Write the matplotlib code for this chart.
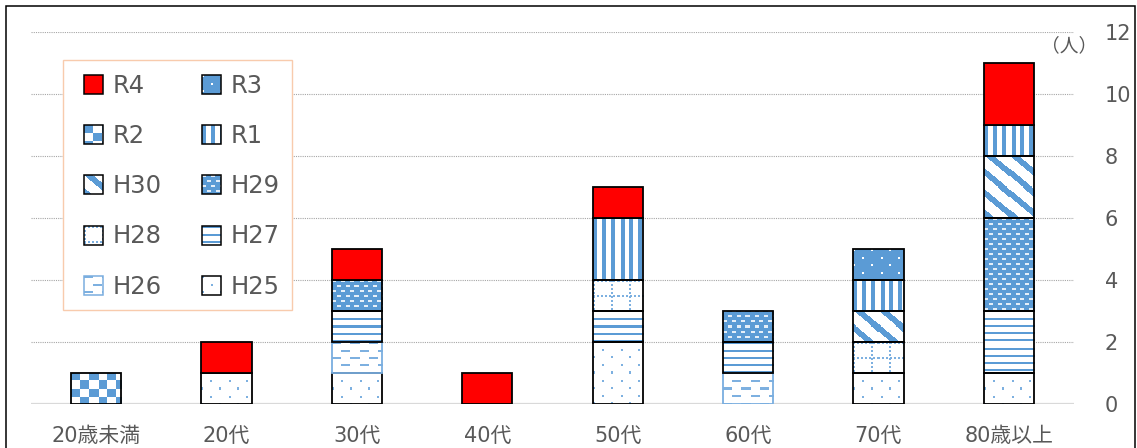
import numpy as np
import matplotlib
matplotlib.use("Agg")
import matplotlib.pyplot as plt
from matplotlib.patches import Rectangle
from matplotlib.legend_handler import HandlerBase
from matplotlib.image import BboxImage
from matplotlib.transforms import Bbox, TransformedBbox

plt.rcParams["font.family"] = ["DejaVu Sans", "Noto Sans CJK JP"]

# ---- data -------------------------------------------------------------
categories = ["20歳未満", "20代", "30代", "40代", "50代", "60代", "70代", "80歳以上"]
h25 = [0, 1, 1, 0, 2, 0, 1, 1]
h26 = [0, 0, 1, 0, 0, 1, 0, 0]
h27 = [0, 0, 1, 0, 1, 1, 0, 2]
h28 = [0, 0, 0, 0, 1, 0, 1, 0]
h29 = [0, 0, 1, 0, 0, 1, 0, 3]
h30 = [0, 0, 0, 0, 0, 0, 1, 2]
r1 = [0, 0, 0, 0, 2, 0, 1, 1]
r2 = [1, 0, 0, 0, 0, 0, 0, 0]
r3 = [0, 0, 0, 0, 0, 0, 1, 0]
r4 = [0, 1, 1, 1, 1, 0, 0, 2]
series_names = ["H25", "H26", "H27", "H28", "H29", "H30", "R1", "R2", "R3", "R4"]
series_values = [h25, h26, h27, h28, h29, h30, r1, r2, r3, r4]
y_ticks = [0, 2, 4, 6, 8, 10, 12]
unit_label = "（人）"

# ---- styling ----------------------------------------------------------
BLUE = np.array([91, 155, 213])
LIGHT = np.array([125, 176, 224])
WHITE = np.array([255, 255, 255])
PALE = np.array([228, 238, 248])
TEXT = "#595959"

edge_colors = {name: "black" for name in series_names}
edge_colors["H26"] = "#7AAEDF"


def texture(name, w, h):
    """Pixel pattern fill for one series, w x h pixels."""
    w, h = max(int(w), 1), max(int(h), 1)
    yy, xx = np.mgrid[0:h, 0:w].astype(float)

    def stagger(px, py, dw, dh):
        row = np.floor(yy / py)
        sx = (xx - (row % 2) * px / 2.0) % px
        return (sx < dw) & ((yy % py) < dh)

    bg, fg = WHITE, BLUE
    if name == "H25":
        mask, fg = stagger(17.5, 7.5, 2, 2), LIGHT
    elif name == "H26":
        mask, fg = stagger(18.0, 7.3, 9, 2), LIGHT
    elif name == "H27":
        mask = (yy % 7.2) < 2
    elif name == "H28":
        mask = (((xx % 17.5) < 2) & ((yy % 4) < 2)) | (((yy % 15) < 2) & ((xx % 4) < 2))
        fg = LIGHT
    elif name == "H29":
        mask, bg, fg = stagger(8.75, 5.0, 4, 1.5), BLUE, PALE
    elif name == "H30":
        mask = ((xx - 1.2 * yy) % 24.0) < 9
    elif name == "R1":
        mask = (xx % 8.7) < 4
    elif name == "R2":
        mask = ((np.floor(xx / 8.7) + np.floor(yy / 7.7)) % 2) == 0
    elif name == "R3":
        mask, bg, fg = stagger(17.5, 7.5, 2, 2), BLUE, WHITE
    else:
        mask = np.zeros((h, w), bool)
    img = np.empty((h, w, 3), dtype=np.uint8)
    img[:] = bg
    img[mask] = fg
    return img


SOLID = {"R4": "#FF0000"}

# ---- figure -----------------------------------------------------------
W, H, DPI = 1137, 448, 100
fig = plt.figure(figsize=(W / DPI, H / DPI), dpi=DPI)
ax = fig.add_axes([31 / W, 44 / H, 1043 / W, 372 / H])

x = np.arange(len(categories))
ax.set_xlim(-0.5, len(categories) - 0.5)
ax.set_ylim(0, 12)

bar_width = 0.385
bottom = np.zeros(len(categories))
for name, vals in zip(series_names, series_values):
    vals = np.asarray(vals, float)
    idx = np.nonzero(vals > 0)[0]
    if len(idx):
        bars = ax.bar(x[idx], vals[idx], width=bar_width, bottom=bottom[idx],
                      facecolor=SOLID.get(name, "white"),
                      edgecolor=edge_colors[name], linewidth=1.3, zorder=3)
        if name not in SOLID:
            for rect in bars:
                x0, y0 = rect.get_x(), rect.get_y()
                x1, y1 = x0 + rect.get_width(), y0 + rect.get_height()
                (p0x, p0y), (p1x, p1y) = ax.transData.transform([(x0, y0), (x1, y1)])
                tex = texture(name, round(p1x - p0x), round(p1y - p0y))
                im = ax.imshow(tex, extent=(x0, x1, y0, y1), origin="upper",
                               interpolation="nearest", aspect="auto", zorder=2.5)
                im.set_clip_path(rect)
                rect.set_facecolor("none")
    bottom += vals

ax.set_xlim(-0.5, len(categories) - 0.5)
ax.set_ylim(0, 12)

# grid and baseline
ax.set_yticks(y_ticks)
ax.grid(axis="y", color="#A6A6A6", linestyle=(0, (1, 1)), linewidth=0.8, zorder=0)
ax.set_axisbelow(True)
ax.axhline(0, color="#D9D9D9", linewidth=1.6, zorder=1)

for s in ax.spines.values():
    s.set_visible(False)
ax.yaxis.tick_right()
ax.tick_params(axis="y", length=0, pad=22, labelsize=15, labelcolor=TEXT)
ax.set_xticks(x)
ax.set_xticklabels(categories)
ax.tick_params(axis="x", length=0, pad=15.5, labelsize=15, labelcolor=TEXT)

ax.text(0.995, 0.962, unit_label, transform=ax.transAxes, ha="center", va="center",
        fontsize=13.5, color=TEXT, family=["Noto Sans CJK JP", "DejaVu Sans"])


# ---- legend -----------------------------------------------------------
class SwatchHandler(HandlerBase):
    size_px = 19

    def create_artists(self, legend, orig_handle, xdescent, ydescent,
                       width, height, fontsize, trans):
        name = orig_handle.get_gid()
        s = self.size_px * 72.0 / DPI
        sx = width - s - xdescent
        sy = (height - s) / 2.0 - ydescent
        artists = []
        if name not in SOLID:
            bb = TransformedBbox(Bbox.from_bounds(sx, sy, s, s), trans)
            img = BboxImage(bb, interpolation="nearest")
            img.set_data(texture(name, self.size_px, self.size_px))
            artists.append(img)
        rect = Rectangle((sx, sy), s, s, transform=trans,
                         facecolor=SOLID.get(name, "none"),
                         edgecolor=edge_colors[name], linewidth=1.1)
        artists.append(rect)
        return artists


legend_order = ["R4", "R2", "H30", "H28", "H26", "R3", "R1", "H29", "H27", "H25"]
proxies = [Rectangle((0, 0), 1, 1, label=n, gid=n) for n in legend_order]
leg = ax.legend(handles=proxies, handler_map={Rectangle: SwatchHandler()},
                ncol=2, loc="upper left", bbox_to_anchor=(0.0307, 0.9247),
                borderaxespad=0, fontsize=17.5, labelcolor=TEXT,
                handlelength=1.15, handleheight=1.23, handletextpad=0.41,
                borderpad=0.49, labelspacing=1.0, columnspacing=1.28,
                frameon=True, fancybox=False, framealpha=1, shadow=False)
leg.get_frame().set_edgecolor("#F8CBAD")
leg.get_frame().set_linewidth(1.0)
leg.set_zorder(5)

# outer chart border
fig.add_artist(Rectangle((6 / W, -0.05), 1129 / W, 1 - 6 / H + 0.05,
                         transform=fig.transFigure, fill=False,
                         edgecolor="black", linewidth=1.1, clip_on=False))

fig.savefig("out.png", dpi=DPI)
